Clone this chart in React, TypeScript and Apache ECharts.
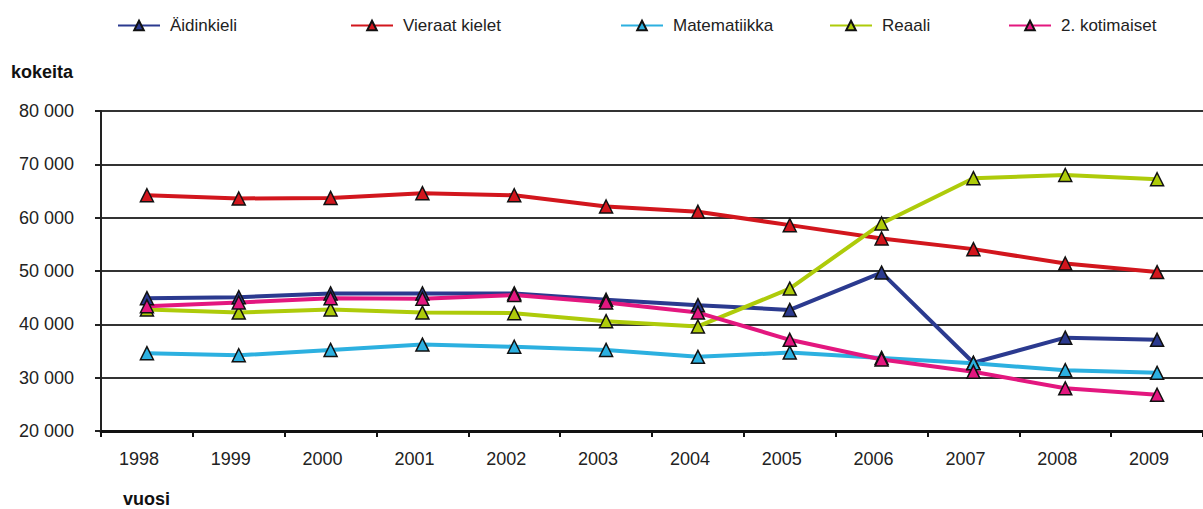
import React, { useEffect, useRef } from "react";
import * as echarts from "echarts";

const years = ["1998", "1999", "2000", "2001", "2002", "2003", "2004", "2005", "2006", "2007", "2008", "2009"];
const aidinkieli = [44900, 45100, 45800, 45800, 45800, 44600, 43600, 42700, 49700, 32800, 37500, 37100];
const vieraatKielet = [64200, 63600, 63700, 64600, 64200, 62100, 61100, 58600, 56100, 54100, 51400, 49800];
const matematiikka = [34600, 34200, 35200, 36200, 35800, 35200, 33900, 34700, 33700, 32700, 31400, 30900];
const reaali = [42800, 42200, 42800, 42200, 42100, 40600, 39600, 46700, 58900, 67400, 68000, 67200];
const kotimaiset = [43400, 44100, 44900, 44800, 45500, 44100, 42200, 37100, 33400, 31100, 28000, 26800];

const seriesDefs = [
  { name: "Äidinkieli", data: aidinkieli, color: "#2b3a8f", legendLeft: 117 },
  { name: "Vieraat kielet", data: vieraatKielet, color: "#d2161d", legendLeft: 350 },
  { name: "Matematiikka", data: matematiikka, color: "#2cb0e0", legendLeft: 620 },
  { name: "Reaali", data: reaali, color: "#aecb0a", legendLeft: 829 },
  { name: "2. kotimaiset", data: kotimaiset, color: "#e3177f", legendLeft: 1008 },
];

const FONT = "'Liberation Sans', Arial, sans-serif";

export default function App() {
  const ref = useRef<HTMLDivElement>(null);
  useEffect(() => {
    if (!ref.current) return;
    const chart = echarts.init(ref.current, undefined, { renderer: "svg" });
    chart.setOption({
      animation: false,
      backgroundColor: "#ffffff",
      textStyle: { fontFamily: FONT },
      legend: seriesDefs.map((s) => ({
        data: [s.name],
        left: s.legendLeft,
        top: 17,
        itemWidth: 42,
        itemHeight: 12,
        padding: 0,
        textStyle: { fontSize: 17, color: "#222", fontFamily: FONT, padding: [0, 0, 0, 5] },
      })),
      grid: { left: 101, top: 111, height: 320, width: 1118 },
      xAxis: {
        type: "category",
        data: years,
        boundaryGap: true,
        axisLine: { show: true, lineStyle: { color: "#111", width: 3 } },
        axisTick: { show: true, length: 6, lineStyle: { color: "#111", width: 2 } },
        axisLabel: { fontSize: 18, color: "#222", margin: 19, fontFamily: FONT, padding: [0, 16, 0, 0] },
        splitLine: { show: false },
      },
      yAxis: {
        type: "value",
        min: 20000,
        max: 80000,
        interval: 10000,
        axisLine: { show: true, lineStyle: { color: "#222", width: 2 } },
        axisTick: { show: true, length: 6, lineStyle: { color: "#222", width: 2 } },
        axisLabel: {
          fontSize: 18,
          color: "#222",
          margin: 27,
          fontFamily: FONT,
          formatter: (v: number) => String(v).replace(/\B(?=(\d{3})+(?!\d))/g, " "),
        },
        splitLine: { show: true, lineStyle: { color: "#333", width: 2 } },
      },
      graphic: [
        {
          type: "text",
          left: 11,
          top: 63,
          style: { text: "kokeita", font: `bold 18px ${FONT}`, fill: "#111" },
        },
        {
          type: "text",
          left: 123,
          top: 490,
          style: { text: "vuosi", font: `bold 18px ${FONT}`, fill: "#111" },
        },
      ],
      series: seriesDefs.map((s) => ({
        name: s.name,
        type: "line",
        data: s.data,
        symbol: "triangle",
        symbolSize: 13,
        lineStyle: { color: s.color, width: 4 },
        itemStyle: { color: s.color, borderColor: "#111", borderWidth: 1.5 },
      })),
    });
    return () => chart.dispose();
  }, []);
  return (
    <div
      ref={ref}
      style={{ position: "absolute", left: 0, top: 0, width: 1203, height: 509 }}
    />
  );
}
